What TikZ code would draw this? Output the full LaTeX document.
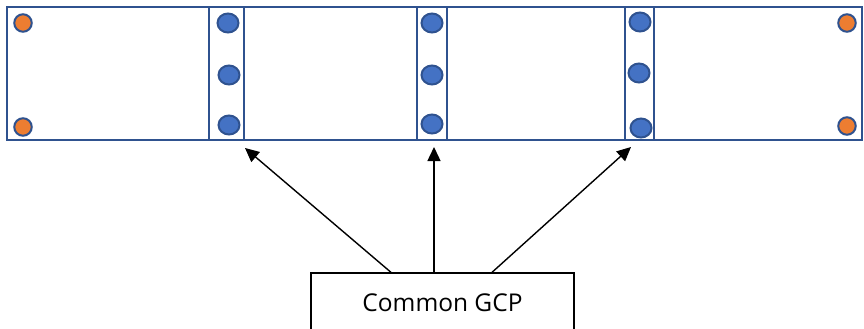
\documentclass[tikz,border=0pt]{standalone}
\usepackage{fontspec}
\setmainfont{Open Sans}
\usepackage{xcolor}
\usepackage{tikz}
\usetikzlibrary{
  arrows.meta,
  positioning,
  shapes.geometric
}
\definecolor{frameblue}{HTML}{2F528F}
\definecolor{gcpblue}{HTML}{4472C4}
\definecolor{tieorange}{HTML}{ED7D31}

\begin{document}
\begin{tikzpicture}[
    x=1pt,
    y=-1pt,
    >={Triangle[length=14pt,width=13pt]},
    strip/.style={
      draw=frameblue,
      line width=2.8pt,
      minimum width=#1,
      minimum height=133pt,
      inner sep=0pt
    },
    gcp/.style={
      ellipse,
      draw=frameblue,
      fill=gcpblue,
      line width=2pt,
      minimum width=21pt,
      minimum height=19pt,
      inner sep=0pt
    },
    tie/.style={
      circle,
      draw=frameblue,
      fill=tieorange,
      line width=2pt,
      minimum size=17.5pt,
      inner sep=0pt
    },
    label box/.style={
      draw,
      line width=1.3pt,
      minimum width=263pt,
      minimum height=60pt,
      font=\fontsize{24.5}{28}\selectfont
    },
    pointer/.style={->,line width=1.4pt}
  ]

  \useasboundingbox (0,0) rectangle (864,329);
  \clip (0,0) rectangle (864,329);

  % ========== Image strip ==========
  \node[strip=855pt] (block) at (434.5,73.5) {};

  \node[strip=35pt] (s1) at (226.5,73.5) {};
  \node[strip=30pt] (s2) at (432,73.5) {};
  \node[strip=29pt] (s3) at (639.5,73.5) {};

  % tie points at the corners
  \node[tie] (t1) at (23,23) {};
  \node[tie] (t2) at (23,127) {};
  \node[tie] (t3) at (847,23) {};
  \node[tie] (t4) at (847,126) {};

  % common points in the overlaps
  \node[gcp] (g11) at (228,23) {};
  \node[gcp] (g12) at (229,75) {};
  \node[gcp] (g13) at (229,125) {};

  \node[gcp] (g21) at (432,23) {};
  \node[gcp] (g22) at (432,75) {};
  \node[gcp] (g23) at (432,124) {};

  \node[gcp] (g31) at (640,22) {};
  \node[gcp] (g32) at (639,73) {};
  \node[gcp] (g33) at (641,128) {};

  % ========== Label and arrows ==========
  \node[label box] (common) at (442.5,303) {Common GCP};

  \coordinate (tip1) at (245,148);
  \coordinate (tip2) at (434,147);
  \coordinate (tip3) at (631,147);

  \draw[pointer] ([xshift=-51.5pt]common.north) -- (tip1);
  \draw[pointer] ([xshift=-8.5pt]common.north) -- (tip2);
  \draw[pointer] ([xshift=49.5pt]common.north) -- (tip3);
\end{tikzpicture}
\end{document}
